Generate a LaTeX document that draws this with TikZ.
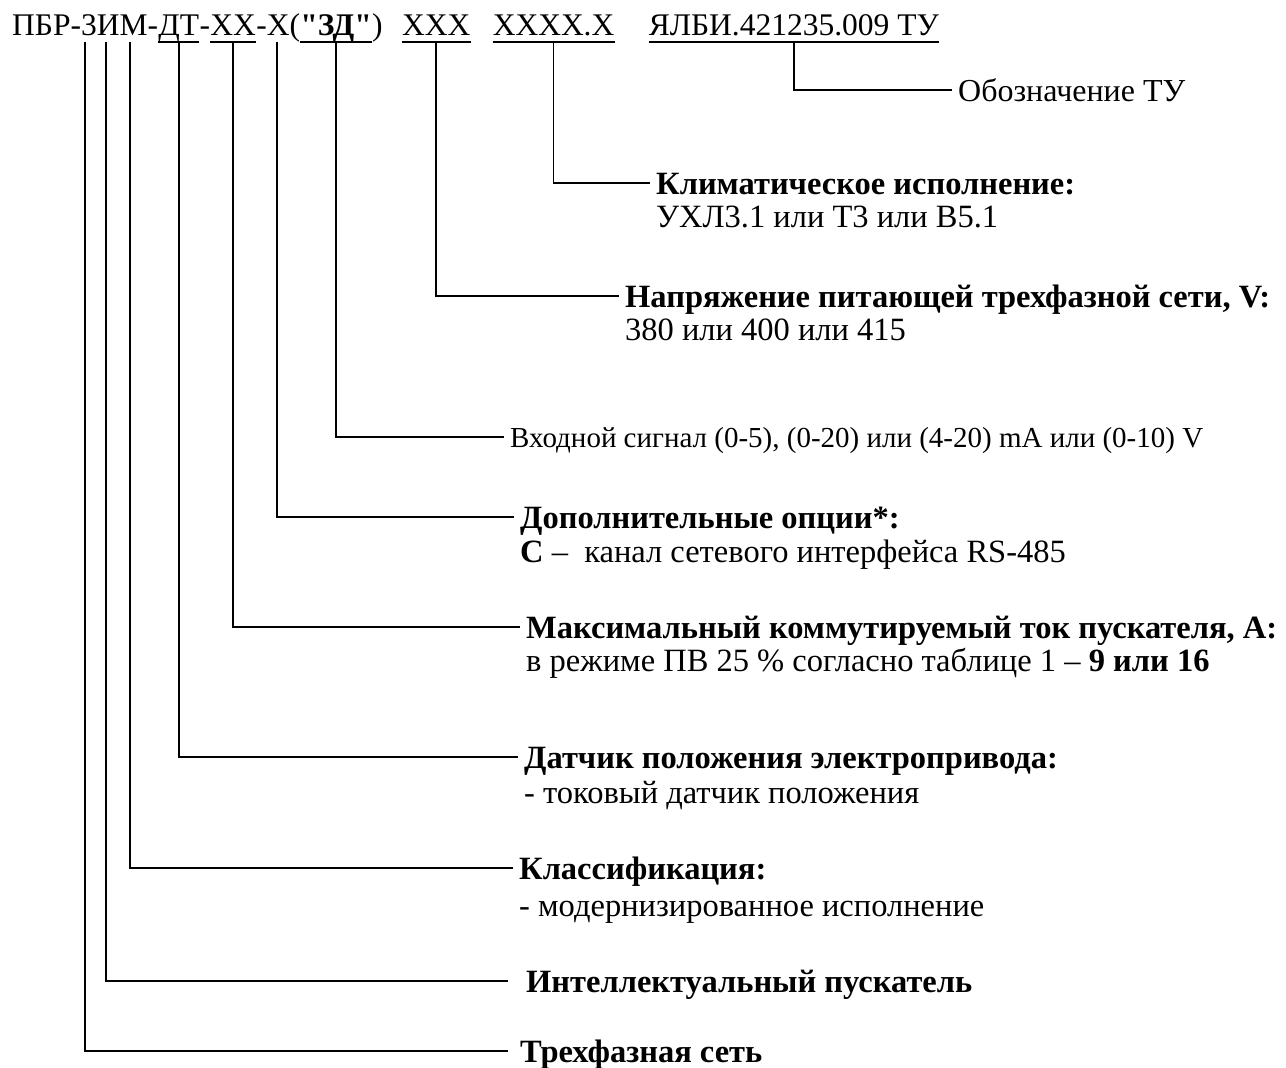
\documentclass[tikz,border=0pt]{standalone}
\usepackage{fontspec}
\setmainfont{Liberation Serif}[Ligatures=TeXOff]
\usetikzlibrary{calc, positioning}

\begin{document}
\begin{tikzpicture}[x=1pt, y=-1pt,
    hdr/.style={inner sep=0pt, font=\fontsize{31.5}{36}\selectfont, text height=22pt, text depth=7pt},
    ttl/.style={inner xsep=6pt, inner ysep=0pt, anchor=west, font=\fontsize{32.5}{38}\selectfont, text height=28pt, text depth=6pt},
    dsc/.style={inner sep=0pt, anchor=base west, font=\fontsize{32.5}{38}\selectfont},
    lead/.style={line width=1.8pt},
    uline/.style={line width=1.8pt}]
        \useasboundingbox (0,0) rectangle (1286,1068);

        % Designation
        \node[hdr, anchor=base west] (pbr) at (12,35) {ПБР-3ИМ-};
        \node[hdr, right=0pt of pbr] (dt) {ДТ};
        \node[hdr, right=0pt of dt] (dsh) {-};
        \node[hdr, right=0pt of dsh] (xx) {ХХ};
        \node[hdr, right=0pt of xx] (opt) {-Х(};
        \node[hdr, right=0pt of opt] (zd) {\textbf{"ЗД"}};
        \node[hdr, right=0pt of zd] (br) {)};
        \node[hdr, right=19pt of br] (volt) {ХХХ};
        \node[hdr, right=22pt of volt] (clim) {ХХХХ.Х};
        \node[hdr, right=34pt of clim] (tu) {ЯЛБИ.421235.009 ТУ};
        \foreach \n in {dt, xx, zd, volt, clim, tu}
            \draw[uline] (\n.south west) -- (\n.south east);

        % Taps without underline
        \coordinate (net) at ($(pbr.south west)+(73,0)$);
        \coordinate (intel) at ($(pbr.south west)+(94,0)$);
        \coordinate (cls) at ($(pbr.south west)+(118,0)$);
        \coordinate (rs) at ($(opt.south west)+(21,0)$);

        % Labels
        \node[ttl, font=\fontsize{32}{38}\selectfont] (tuL) at (952,90) {Обозначение ТУ};
        \node[ttl] (climL) at (650,183) {\textbf{Климатическое исполнение:}};
        \node[dsc] (climD) at ($(climL.base west)+(6,33)$) {УХЛ3.1 или Т3 или В5.1};
        \node[ttl] (voltL) at (619,296) {\textbf{Напряжение питающей трехфазной сети, V:}};
        \node[dsc] (voltD) at ($(voltL.base west)+(6,33)$) {380 или 400 или 415};
        \node[ttl, font=\fontsize{29}{34}\selectfont, text height=27pt, text depth=6pt] (zdL) at (504,437) {Входной сигнал (0-5), (0-20) или (4-20) mA или (0-10) V};
        \node[ttl] (optL) at (514,517) {\textbf{Дополнительные опции*:}};
        \node[dsc] (optD) at ($(optL.base west)+(6,34)$) {\textbf{С} –~~канал сетевого интерфейса RS-485};
        \node[ttl] (xxL) at (520,627) {\textbf{Максимальный коммутируемый ток пускателя, А:}};
        \node[dsc] (xxD) at ($(xxL.base west)+(6,33)$) {в режиме ПВ 25 \% согласно таблице 1 – \textbf{9 или 16}};
        \node[ttl] (dtL) at (518,757) {\textbf{Датчик положения электропривода:}};
        \node[dsc] (dtD) at ($(dtL.base west)+(6,35)$) {- токовый датчик положения};
        \node[ttl] (clsL) at (513,868) {\textbf{Классификация:}};
        \node[dsc] (clsD) at ($(clsL.base west)+(6,37)$) {- модернизированное исполнение};
        \node[ttl, inner xsep=18pt] (intelL) at (508,981) {\textbf{Интеллектуальный пускатель}};
        \node[ttl, inner xsep=12pt] (netL) at (508,1051) {\textbf{Трехфазная сеть}};

        % Leaders
        \draw[lead] (tu.south) |- (tuL.west);
        \draw[lead] (clim.south) |- (climL.west);
        \draw[lead] (volt.south) |- (voltL.west);
        \draw[lead] (zd.south) |- (zdL.west);
        \draw[lead] (rs) |- (optL.west);
        \draw[lead] (xx.south) |- (xxL.west);
        \draw[lead] (dt.south) |- (dtL.west);
        \draw[lead] (cls) |- (clsL.west);
        \draw[lead] (intel) |- (intelL.west);
        \draw[lead] (net) |- (netL.west);
    \end{tikzpicture}
\end{document}
